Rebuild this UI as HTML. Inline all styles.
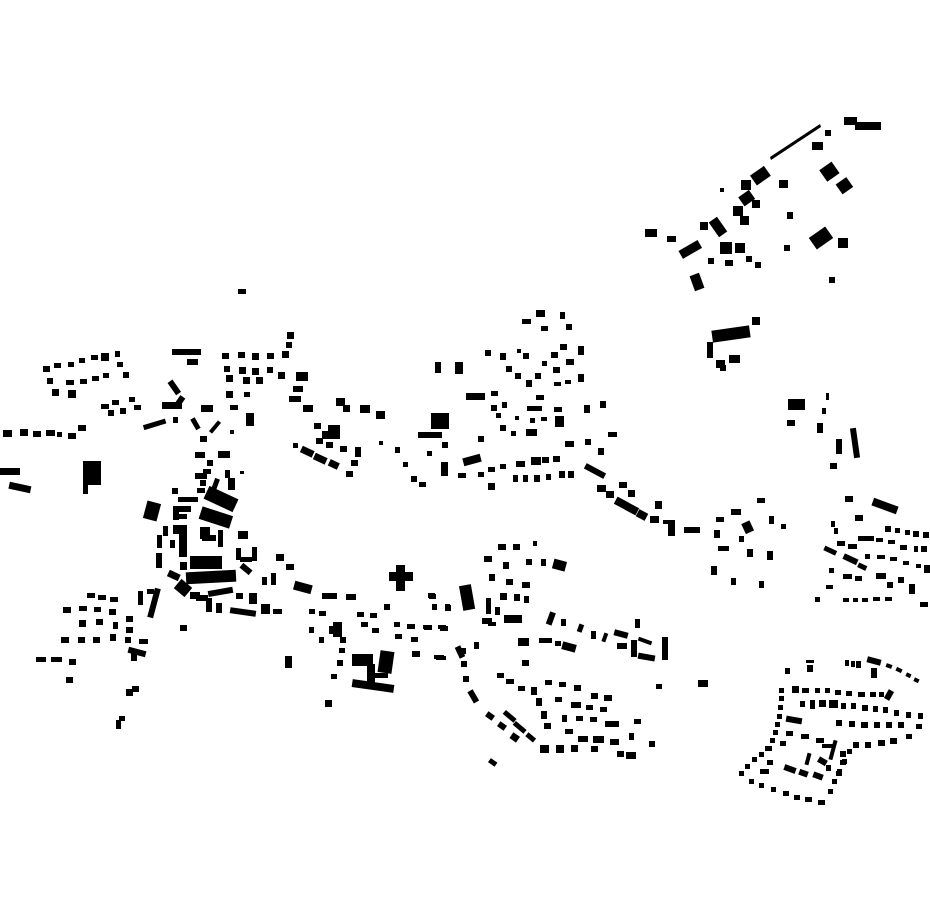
<!DOCTYPE html>
<html><head><meta charset="utf-8"><style>html,body{margin:0;padding:0;background:#fff}svg{display:block}</style></head>
<body>
<svg width="930" height="924" viewBox="0 0 930 924" xmlns="http://www.w3.org/2000/svg">
<defs><rect id="s" width="8" height="6"/><rect id="q" width="7" height="7"/></defs>
<g fill="#000">
<!-- top right -->
<path d="M770 157 L820 124 L821 127 L771 160Z"/>
<rect x="844" y="117" width="13" height="8"/><rect x="855" y="122" width="26" height="8"/>
<rect x="812" y="142" width="11" height="8"/><rect x="825" y="130" width="6" height="6"/>
<rect x="822" y="165" width="15" height="14" transform="rotate(-35 829 172)"/><rect x="838" y="180" width="13" height="12" transform="rotate(-35 844 186)"/>
<rect x="779" y="180" width="9" height="8"/><rect x="752" y="170" width="17" height="12" transform="rotate(-35 760 176)"/>
<rect x="741" y="180" width="10" height="10"/><rect x="740" y="193" width="13" height="11" transform="rotate(-35 746 198)"/>
<rect x="752" y="200" width="8" height="8"/><rect x="733" y="206" width="10" height="10"/><rect x="740" y="216" width="9" height="9"/>
<rect x="713" y="218" width="10" height="18" transform="rotate(-35 718 227)"/><rect x="700" y="222" width="8" height="8"/>
<rect x="679" y="245" width="22" height="9" transform="rotate(-30 690 249)"/><rect x="667" y="236" width="9" height="6"/>
<rect x="645" y="229" width="12" height="8"/><rect x="720" y="242" width="12" height="12"/><rect x="735" y="243" width="10" height="10"/>
<rect x="746" y="256" width="6" height="6"/><rect x="725" y="260" width="8" height="6"/><rect x="755" y="262" width="6" height="6"/>
<rect x="708" y="258" width="6" height="6"/><rect x="692" y="274" width="10" height="16" transform="rotate(-20 697 282)"/>
<rect x="811" y="231" width="20" height="14" transform="rotate(-35 821 238)"/><rect x="838" y="238" width="10" height="10"/>
<rect x="784" y="245" width="6" height="6"/><rect x="787" y="212" width="6" height="7"/><rect x="829" y="277" width="6" height="6"/><rect x="720" y="188" width="4" height="4"/>
<!-- mid right -->
<rect x="712" y="328" width="38" height="12" transform="rotate(-8 731 334)"/><rect x="752" y="317" width="8" height="8"/>
<rect x="707" y="342" width="6" height="16"/><rect x="716" y="360" width="9" height="8"/><rect x="729" y="355" width="11" height="8"/><rect x="720" y="365" width="6" height="6"/>
<rect x="788" y="399" width="17" height="11"/><rect x="787" y="420" width="8" height="6"/><rect x="826" y="393" width="3" height="7"/><rect x="822" y="408" width="4" height="6"/>
<rect x="817" y="423" width="6" height="10"/><rect x="836" y="439" width="6" height="15"/><rect x="852" y="428" width="6" height="30" transform="rotate(-8 855 443)"/><rect x="830" y="463" width="7" height="6"/>
<!-- road east -->
<rect x="584" y="468" width="22" height="6" transform="rotate(28 595 471)"/><rect x="597" y="485" width="9" height="7"/><rect x="606" y="491" width="8" height="7"/>
<rect x="619" y="482" width="8" height="6"/><rect x="628" y="490" width="7" height="7"/><rect x="615" y="499" width="13" height="8" transform="rotate(28 621 503)"/>
<rect x="626" y="505" width="12" height="8" transform="rotate(28 632 509)"/><rect x="637" y="511" width="10" height="8" transform="rotate(28 642 515)"/>
<rect x="655" y="501" width="7" height="8"/><rect x="650" y="516" width="9" height="7"/><rect x="668" y="520" width="7" height="16"/><rect x="663" y="520" width="10" height="4"/><rect x="684" y="527" width="16" height="6"/>
<!-- east cluster -->
<rect x="716" y="517" width="8" height="5"/><rect x="731" y="509" width="10" height="6"/><rect x="757" y="498" width="8" height="5"/>
<rect x="743" y="522" width="9" height="11" transform="rotate(-25 747 527)"/><rect x="769" y="516" width="5" height="8"/><rect x="781" y="524" width="5" height="5"/>
<rect x="714" y="530" width="6" height="8"/><rect x="718" y="546" width="11" height="5"/><rect x="739" y="536" width="5" height="6"/><rect x="747" y="549" width="6" height="8"/>
<rect x="767" y="551" width="6" height="9"/><rect x="711" y="566" width="6" height="9"/><rect x="731" y="578" width="5" height="7"/><rect x="759" y="581" width="5" height="7"/>
<!-- far right -->
<rect x="845" y="496" width="8" height="6"/><rect x="872" y="502" width="26" height="8" transform="rotate(20 885 506)"/><rect x="855" y="515" width="8" height="6"/>
<rect x="831" y="521" width="4" height="6"/><rect x="858" y="536" width="9" height="5"/><rect x="834" y="528" width="4" height="6"/>
<rect x="885" y="526" width="6" height="6"/><rect x="895" y="528" width="5" height="5"/><rect x="905" y="530" width="5" height="5"/><rect x="913" y="531" width="6" height="6"/><rect x="923" y="532" width="6" height="6"/>
<rect x="837" y="541" width="8" height="5"/><rect x="848" y="544" width="9" height="5"/><rect x="866" y="536" width="8" height="5"/><rect x="876" y="538" width="7" height="4"/><rect x="888" y="540" width="7" height="4"/>
<rect x="900" y="545" width="7" height="5"/><rect x="914" y="546" width="4" height="6"/><rect x="921" y="546" width="6" height="6"/>
<rect x="824" y="548" width="13" height="5" transform="rotate(25 830 550)"/><rect x="843" y="556" width="15" height="6" transform="rotate(25 850 559)"/>
<rect x="858" y="564" width="9" height="5" transform="rotate(25 862 566)"/><rect x="865" y="554" width="5" height="5"/><rect x="877" y="555" width="8" height="4"/><rect x="890" y="557" width="7" height="4"/><rect x="903" y="561" width="6" height="4"/><rect x="916" y="564" width="5" height="4"/><rect x="924" y="565" width="6" height="8"/>
<rect x="829" y="568" width="5" height="5"/><rect x="843" y="574" width="9" height="5"/><rect x="855" y="576" width="7" height="5"/><rect x="876" y="573" width="10" height="6"/><rect x="887" y="582" width="6" height="6"/><rect x="898" y="577" width="6" height="6"/><rect x="909" y="584" width="6" height="10"/>
<rect x="826" y="585" width="7" height="4"/><rect x="815" y="597" width="5" height="5"/><rect x="843" y="598" width="6" height="4"/><rect x="853" y="598" width="5" height="4"/><rect x="862" y="598" width="6" height="4"/><rect x="873" y="597" width="7" height="4"/><rect x="885" y="597" width="7" height="4"/><rect x="920" y="602" width="8" height="5"/>
<!-- north-central cluster -->
<rect x="536" y="310" width="9" height="7"/><rect x="522" y="319" width="9" height="5"/><rect x="541" y="326" width="7" height="5"/><rect x="560" y="312" width="5" height="7"/><rect x="566" y="324" width="6" height="6"/>
<rect x="485" y="350" width="6" height="6"/><rect x="500" y="353" width="6" height="7"/><rect x="517" y="349" width="4" height="4"/><rect x="523" y="353" width="6" height="6"/>
<rect x="506" y="366" width="6" height="6"/><rect x="515" y="373" width="6" height="6"/><rect x="526" y="380" width="6" height="7"/><rect x="535" y="373" width="6" height="6"/>
<rect x="542" y="361" width="5" height="5"/><rect x="551" y="352" width="7" height="6"/><rect x="560" y="344" width="7" height="6"/><rect x="578" y="346" width="6" height="9"/>
<rect x="566" y="359" width="8" height="6"/><rect x="553" y="367" width="7" height="6"/><rect x="554" y="382" width="7" height="4"/><rect x="565" y="380" width="6" height="4"/><rect x="578" y="374" width="6" height="8"/>
<rect x="435" y="362" width="6" height="11"/><rect x="455" y="362" width="8" height="12"/>
<rect x="466" y="393" width="19" height="7"/><rect x="491" y="391" width="7" height="5"/><rect x="491" y="405" width="6" height="6"/><rect x="502" y="402" width="5" height="6"/>
<rect x="496" y="413" width="5" height="5"/><rect x="500" y="425" width="6" height="6"/><rect x="511" y="431" width="5" height="5"/><rect x="527" y="406" width="15" height="5"/>
<rect x="536" y="395" width="8" height="5"/><rect x="554" y="407" width="8" height="5"/><rect x="515" y="416" width="4" height="4"/><rect x="530" y="418" width="5" height="5"/>
<rect x="541" y="417" width="6" height="4"/><rect x="555" y="416" width="9" height="11"/><rect x="526" y="429" width="11" height="7"/><rect x="584" y="405" width="6" height="8"/><rect x="600" y="401" width="6" height="7"/>
<rect x="431" y="413" width="18" height="16"/><rect x="418" y="432" width="24" height="6"/><rect x="427" y="451" width="5" height="5"/><rect x="442" y="442" width="6" height="6"/>
<rect x="441" y="462" width="7" height="14"/><rect x="478" y="436" width="6" height="6"/><rect x="463" y="456" width="18" height="8" transform="rotate(-15 472 460)"/>
<rect x="458" y="473" width="8" height="5"/><rect x="478" y="472" width="6" height="5"/><rect x="488" y="467" width="7" height="5"/><rect x="500" y="464" width="6" height="5"/>
<rect x="516" y="461" width="9" height="6"/><rect x="531" y="457" width="10" height="8"/><rect x="542" y="457" width="7" height="6"/><rect x="553" y="456" width="7" height="6"/>
<rect x="488" y="483" width="7" height="7"/><rect x="513" y="475" width="5" height="7"/><rect x="523" y="475" width="5" height="7"/><rect x="534" y="475" width="6" height="7"/><rect x="546" y="474" width="5" height="6"/><rect x="559" y="471" width="6" height="7"/><rect x="568" y="471" width="6" height="7"/>
<rect x="565" y="441" width="9" height="6"/><rect x="585" y="439" width="6" height="6"/><rect x="598" y="448" width="6" height="7"/><rect x="608" y="432" width="9" height="5"/>
<!-- west -->
<rect x="238" y="289" width="8" height="5"/>
<rect x="43" y="366" width="7" height="6"/><rect x="54" y="363" width="7" height="5"/><rect x="68" y="362" width="6" height="5"/><rect x="79" y="358" width="6" height="5"/><rect x="91" y="355" width="7" height="5"/><rect x="101" y="353" width="8" height="8"/><rect x="115" y="351" width="5" height="6"/>
<rect x="47" y="378" width="6" height="6"/><rect x="52" y="389" width="7" height="7"/><rect x="66" y="380" width="8" height="5"/><rect x="80" y="379" width="7" height="5"/><rect x="92" y="376" width="7" height="5"/><rect x="103" y="373" width="6" height="5"/><rect x="68" y="390" width="8" height="8"/><rect x="123" y="372" width="6" height="6"/><rect x="117" y="362" width="6" height="5"/>
<rect x="172" y="349" width="29" height="6"/><rect x="187" y="359" width="11" height="6"/>
<rect x="171" y="380" width="6" height="15" transform="rotate(-35 174 387)"/><rect x="162" y="402" width="20" height="7"/><rect x="177" y="396" width="6" height="10" transform="rotate(35 180 401)"/>
<rect x="101" y="404" width="8" height="5"/><rect x="112" y="400" width="7" height="5"/><rect x="129" y="397" width="6" height="5"/><rect x="134" y="405" width="7" height="5"/><rect x="108" y="410" width="6" height="6"/><rect x="120" y="408" width="6" height="6"/>
<rect x="3" y="430" width="9" height="7"/><rect x="20" y="429" width="8" height="7"/><rect x="33" y="431" width="8" height="6"/><rect x="46" y="430" width="9" height="6"/><rect x="57" y="432" width="5" height="5"/><rect x="68" y="433" width="8" height="6"/><rect x="78" y="425" width="8" height="6"/>
<rect x="143" y="422" width="23" height="5" transform="rotate(-17 154 424)"/><rect x="173" y="417" width="5" height="6"/>
<rect x="83" y="461" width="18" height="24"/><rect x="83" y="480" width="5" height="14"/>
<rect x="0" y="468" width="20" height="7"/><rect x="9" y="484" width="22" height="7" transform="rotate(12 20 487)"/>
<rect x="222" y="353" width="7" height="6"/><rect x="238" y="352" width="7" height="6"/><rect x="252" y="353" width="7" height="7"/><rect x="267" y="353" width="7" height="6"/><rect x="282" y="351" width="7" height="7"/>
<rect x="224" y="366" width="6" height="6"/><rect x="239" y="367" width="7" height="7"/><rect x="252" y="368" width="7" height="7"/><rect x="267" y="367" width="6" height="6"/><rect x="278" y="372" width="7" height="7"/>
<rect x="226" y="375" width="7" height="7"/><rect x="243" y="377" width="7" height="7"/><rect x="256" y="377" width="7" height="7"/><rect x="226" y="391" width="7" height="7"/><rect x="244" y="392" width="6" height="5"/>
<rect x="287" y="332" width="7" height="7"/><rect x="286" y="342" width="6" height="6"/>
<rect x="296" y="372" width="12" height="9"/><rect x="293" y="386" width="10" height="6"/><rect x="289" y="396" width="12" height="6"/><rect x="306" y="405" width="7" height="7"/><rect x="201" y="405" width="12" height="7"/><rect x="230" y="405" width="8" height="5"/>
<rect x="246" y="413" width="8" height="13"/><rect x="193" y="418" width="5" height="12" transform="rotate(-30 195 424)"/><rect x="213" y="420" width="4" height="14" transform="rotate(40 215 427)"/><rect x="200" y="436" width="7" height="6"/><rect x="230" y="430" width="4" height="4"/>
<rect x="336" y="398" width="9" height="8"/><rect x="343" y="405" width="7" height="7"/><rect x="360" y="405" width="10" height="8"/><rect x="376" y="411" width="9" height="8"/>
<rect x="303" y="405" width="7" height="7"/><rect x="314" y="423" width="7" height="6"/><rect x="328" y="425" width="12" height="8"/><rect x="322" y="431" width="18" height="8"/><rect x="316" y="438" width="7" height="6"/><rect x="326" y="442" width="7" height="6"/><rect x="340" y="446" width="7" height="6"/><rect x="355" y="447" width="6" height="10"/>
<rect x="293" y="443" width="5" height="5"/><rect x="301" y="448" width="13" height="7" transform="rotate(25 307 451)"/><rect x="314" y="455" width="13" height="7" transform="rotate(25 320 458)"/><rect x="329" y="461" width="10" height="7" transform="rotate(25 334 464)"/><rect x="351" y="460" width="7" height="6"/><rect x="346" y="471" width="7" height="6"/>
<rect x="379" y="441" width="4" height="4"/><rect x="395" y="447" width="5" height="6"/><rect x="403" y="462" width="5" height="5"/><rect x="411" y="476" width="6" height="6"/><rect x="419" y="482" width="7" height="5"/>
<!-- old town -->
<rect x="195" y="452" width="10" height="6"/><rect x="207" y="460" width="6" height="6"/><rect x="203" y="469" width="8" height="5"/><rect x="218" y="451" width="12" height="7"/><rect x="225" y="470" width="5" height="8"/><rect x="240" y="471" width="4" height="3"/>
<rect x="195" y="473" width="12" height="6"/><rect x="200" y="480" width="6" height="6"/><rect x="197" y="488" width="8" height="5"/><rect x="228" y="478" width="7" height="12"/><rect x="212" y="478" width="5" height="18" transform="rotate(20 214 487)"/>
<rect x="172" y="488" width="6" height="6"/><rect x="178" y="497" width="20" height="5"/>
<rect x="205" y="492" width="32" height="14" transform="rotate(25 221 499)"/><rect x="200" y="511" width="32" height="13" transform="rotate(18 216 517)"/>
<rect x="145" y="502" width="14" height="18" transform="rotate(15 152 511)"/><rect x="173" y="506" width="18" height="6"/><rect x="173" y="506" width="6" height="14"/><rect x="178" y="514" width="9" height="5"/>
<rect x="179" y="525" width="8" height="32"/><rect x="173" y="525" width="6" height="9"/><rect x="163" y="526" width="5" height="10"/><rect x="157" y="535" width="5" height="13"/><rect x="156" y="553" width="6" height="15"/><rect x="170" y="540" width="5" height="8"/>
<rect x="200" y="527" width="10" height="12"/><rect x="202" y="535" width="14" height="6"/><rect x="218" y="530" width="5" height="10"/><rect x="218" y="540" width="5" height="7"/><rect x="238" y="531" width="10" height="8"/>
<rect x="190" y="556" width="32" height="13"/><rect x="186" y="571" width="50" height="12" transform="rotate(-3 211 577)"/><rect x="168" y="572" width="12" height="7" transform="rotate(25 174 575)"/><rect x="180" y="562" width="7" height="8"/>
<rect x="236" y="548" width="5" height="12"/><rect x="240" y="557" width="12" height="5"/><rect x="252" y="547" width="5" height="14"/><rect x="240" y="566" width="12" height="6" transform="rotate(40 246 569)"/>
<rect x="176" y="582" width="14" height="12" transform="rotate(40 183 588)"/><rect x="190" y="592" width="10" height="7"/><rect x="196" y="595" width="12" height="6"/><rect x="206" y="598" width="6" height="14"/><rect x="216" y="603" width="6" height="10"/>
<rect x="230" y="609" width="26" height="6" transform="rotate(8 243 612)"/><rect x="208" y="589" width="25" height="6" transform="rotate(-10 220 592)"/><rect x="236" y="593" width="7" height="6"/><rect x="249" y="593" width="8" height="11"/><rect x="261" y="604" width="9" height="10"/><rect x="273" y="609" width="9" height="5"/>
<rect x="151" y="588" width="6" height="30" transform="rotate(15 154 603)"/><rect x="138" y="591" width="5" height="14"/><rect x="147" y="589" width="7" height="5"/>
<rect x="276" y="554" width="8" height="7"/><rect x="286" y="564" width="8" height="6"/><rect x="271" y="573" width="5" height="12"/><rect x="262" y="577" width="5" height="8"/>
<rect x="294" y="583" width="18" height="9" transform="rotate(15 303 587)"/><rect x="322" y="593" width="15" height="6"/><rect x="346" y="594" width="10" height="6"/>
<path d="M396 565h9v7h8v9h-8v10h-9v-10h-7v-9h7z"/>
<rect x="429" y="594" width="7" height="5"/><rect x="432" y="604" width="5" height="6"/><rect x="445" y="605" width="6" height="6"/><rect x="461" y="585" width="12" height="25" transform="rotate(-10 467 597)"/>
<rect x="384" y="604" width="6" height="6"/><rect x="357" y="612" width="7" height="5"/><rect x="370" y="613" width="7" height="5"/><rect x="361" y="622" width="7" height="5"/><rect x="372" y="628" width="7" height="5"/><rect x="394" y="622" width="6" height="5"/>
<rect x="407" y="624" width="8" height="5"/><rect x="424" y="625" width="8" height="5"/><rect x="440" y="626" width="8" height="5"/><rect x="395" y="634" width="7" height="5"/><rect x="411" y="637" width="7" height="5"/><rect x="412" y="651" width="8" height="6"/><rect x="436" y="656" width="10" height="4"/>
<rect x="333" y="622" width="9" height="15"/><rect x="329" y="626" width="5" height="8"/><rect x="309" y="609" width="6" height="5"/><rect x="319" y="611" width="7" height="5"/><rect x="309" y="627" width="5" height="6"/><rect x="319" y="637" width="5" height="6"/><rect x="340" y="637" width="6" height="6"/><rect x="339" y="648" width="6" height="5"/><rect x="337" y="660" width="6" height="6"/><rect x="331" y="674" width="6" height="5"/><rect x="325" y="700" width="7" height="7"/>
<rect x="352" y="654" width="21" height="12"/><rect x="379" y="651" width="14" height="22" transform="rotate(8 386 662)"/><rect x="367" y="664" width="8" height="25"/><rect x="352" y="682" width="42" height="8" transform="rotate(8 373 686)"/><rect x="374" y="673" width="14" height="5"/>
<rect x="285" y="656" width="7" height="12"/>
<rect x="87" y="593" width="8" height="5"/><rect x="98" y="595" width="8" height="5"/><rect x="110" y="597" width="8" height="5"/><rect x="63" y="607" width="8" height="6"/><rect x="79" y="606" width="8" height="5"/><rect x="94" y="607" width="7" height="5"/><rect x="109" y="609" width="7" height="6"/><rect x="126" y="616" width="7" height="6"/>
<rect x="79" y="620" width="7" height="7"/><rect x="96" y="619" width="7" height="6"/><rect x="113" y="622" width="5" height="7"/><rect x="126" y="627" width="7" height="6"/><rect x="61" y="637" width="8" height="6"/><rect x="78" y="637" width="7" height="6"/><rect x="93" y="637" width="7" height="6"/><rect x="110" y="634" width="6" height="7"/><rect x="125" y="637" width="6" height="6"/><rect x="139" y="639" width="9" height="5"/>
<rect x="36" y="657" width="10" height="5"/><rect x="51" y="657" width="11" height="5"/><rect x="69" y="659" width="7" height="6"/><rect x="66" y="677" width="7" height="6"/>
<rect x="128" y="649" width="18" height="6" transform="rotate(15 137 652)"/><rect x="131" y="653" width="6" height="8"/><rect x="126" y="689" width="7" height="7"/><rect x="132" y="686" width="7" height="6"/><rect x="116" y="720" width="5" height="9"/><rect x="119" y="716" width="6" height="5"/><rect x="180" y="625" width="7" height="6"/>
<!-- south central -->
<rect x="498" y="544" width="8" height="6"/><rect x="513" y="544" width="7" height="6"/><rect x="533" y="541" width="4" height="5"/><rect x="484" y="556" width="8" height="6"/><rect x="503" y="562" width="6" height="7"/>
<rect x="526" y="559" width="6" height="6"/><rect x="541" y="559" width="5" height="7"/><rect x="553" y="560" width="13" height="10" transform="rotate(15 559 565)"/><rect x="489" y="574" width="6" height="7"/><rect x="506" y="579" width="7" height="6"/><rect x="522" y="582" width="8" height="6"/>
<rect x="500" y="593" width="7" height="7"/><rect x="514" y="594" width="6" height="7"/><rect x="524" y="596" width="5" height="7"/><rect x="486" y="598" width="5" height="16"/><rect x="495" y="607" width="5" height="8"/>
<rect x="428" y="593" width="7" height="5"/><rect x="445" y="604" width="5" height="6"/><rect x="423" y="625" width="6" height="4"/><rect x="438" y="625" width="8" height="4"/><rect x="482" y="618" width="10" height="6"/><rect x="488" y="622" width="8" height="4"/><rect x="504" y="615" width="18" height="8"/>
<rect x="457" y="646" width="6" height="12" transform="rotate(-25 460 652)"/><rect x="474" y="642" width="5" height="7"/><rect x="434" y="655" width="10" height="4"/>
<rect x="548" y="612" width="6" height="13" transform="rotate(20 551 618)"/><rect x="561" y="619" width="5" height="7"/><rect x="578" y="624" width="5" height="8" transform="rotate(20 580 628)"/><rect x="591" y="631" width="5" height="8"/><rect x="603" y="633" width="4" height="9" transform="rotate(20 605 637)"/>
<rect x="614" y="631" width="14" height="6" transform="rotate(15 621 634)"/><rect x="635" y="619" width="5" height="9"/><rect x="617" y="643" width="10" height="6"/><rect x="631" y="640" width="6" height="17"/><rect x="638" y="639" width="14" height="4" transform="rotate(20 645 641)"/><rect x="638" y="654" width="17" height="6" transform="rotate(10 646 657)"/><rect x="662" y="637" width="6" height="23"/>
<rect x="518" y="638" width="11" height="8"/><rect x="539" y="638" width="13" height="5"/><rect x="555" y="641" width="6" height="5"/><rect x="562" y="643" width="14" height="8" transform="rotate(15 569 647)"/>
<rect x="522" y="660" width="7" height="6"/><rect x="497" y="673" width="7" height="5"/><rect x="506" y="679" width="8" height="5"/><rect x="518" y="686" width="7" height="5"/><rect x="531" y="687" width="6" height="8"/><rect x="536" y="698" width="6" height="8"/><rect x="541" y="711" width="6" height="8"/><rect x="544" y="723" width="7" height="6"/>
<rect x="470" y="690" width="6" height="13" transform="rotate(-30 473 696)"/><rect x="463" y="676" width="6" height="6"/><rect x="461" y="661" width="6" height="6"/><rect x="460" y="648" width="6" height="6"/>
<rect x="545" y="680" width="7" height="5"/><rect x="559" y="682" width="7" height="5"/><rect x="574" y="685" width="7" height="6"/><rect x="591" y="693" width="7" height="6"/><rect x="604" y="695" width="8" height="6"/><rect x="555" y="697" width="7" height="5"/><rect x="571" y="702" width="10" height="6"/>
<rect x="586" y="705" width="7" height="5"/><rect x="600" y="707" width="7" height="5"/><rect x="562" y="715" width="5" height="7"/><rect x="576" y="716" width="7" height="5"/><rect x="590" y="717" width="7" height="5"/><rect x="605" y="721" width="14" height="6"/><rect x="634" y="719" width="7" height="5"/>
<rect x="565" y="729" width="8" height="5"/><rect x="578" y="736" width="10" height="6"/><rect x="593" y="736" width="11" height="7"/><rect x="610" y="739" width="9" height="6"/><rect x="629" y="733" width="5" height="7"/><rect x="649" y="741" width="6" height="6"/>
<rect x="540" y="745" width="9" height="8"/><rect x="556" y="745" width="8" height="8"/><rect x="571" y="745" width="7" height="7"/><rect x="591" y="746" width="7" height="6"/><rect x="617" y="751" width="7" height="6"/><rect x="626" y="752" width="10" height="7"/>
<rect x="486" y="713" width="8" height="6" transform="rotate(35 490 716)"/><rect x="498" y="723" width="8" height="6" transform="rotate(35 502 726)"/><rect x="511" y="734" width="8" height="7" transform="rotate(35 515 737)"/>
<rect x="503" y="714" width="14" height="5" transform="rotate(40 510 716)"/><rect x="513" y="725" width="14" height="5" transform="rotate(40 520 727)"/><rect x="526" y="735" width="10" height="5" transform="rotate(40 531 737)"/>
<rect x="489" y="760" width="8" height="5" transform="rotate(35 493 762)"/><rect x="656" y="684" width="6" height="5"/><rect x="698" y="680" width="10" height="7"/>
<!-- bottom right -->
<rect x="806" y="660" width="8" height="3"/><rect x="807" y="665" width="6" height="7"/><rect x="845" y="660" width="4" height="6"/><rect x="851" y="661" width="4" height="6"/><rect x="856" y="661" width="5" height="7"/>
<rect x="867" y="658" width="14" height="6" transform="rotate(15 874 661)"/><rect x="871" y="668" width="6" height="10"/><rect x="886" y="664" width="6" height="4" transform="rotate(20 889 666)"/><rect x="896" y="668" width="6" height="4" transform="rotate(25 899 670)"/><rect x="906" y="673" width="5" height="4" transform="rotate(25 908 675)"/><rect x="914" y="678" width="5" height="4" transform="rotate(25 916 680)"/><rect x="785" y="668" width="5" height="6"/>
<rect x="792" y="686" width="7" height="7"/><rect x="802" y="688" width="7" height="5"/><rect x="815" y="688" width="5" height="5"/><rect x="825" y="688" width="5" height="5"/><rect x="835" y="690" width="6" height="5"/><rect x="846" y="691" width="6" height="5"/><rect x="858" y="692" width="7" height="5"/><rect x="870" y="692" width="6" height="5"/><rect x="879" y="692" width="5" height="5"/><rect x="886" y="690" width="6" height="10" transform="rotate(30 889 695)"/>
<rect x="800" y="701" width="5" height="6"/><rect x="810" y="700" width="5" height="9"/><rect x="819" y="700" width="7" height="7"/><rect x="829" y="700" width="9" height="8"/><rect x="841" y="703" width="5" height="6"/><rect x="851" y="703" width="5" height="6"/><rect x="862" y="705" width="6" height="6"/><rect x="873" y="706" width="5" height="6"/><rect x="883" y="707" width="5" height="6"/><rect x="894" y="710" width="5" height="6"/><rect x="906" y="712" width="5" height="6"/><rect x="918" y="713" width="5" height="6"/>
<rect x="786" y="717" width="16" height="6" transform="rotate(10 794 720)"/><rect x="836" y="720" width="6" height="6"/><rect x="849" y="721" width="6" height="6"/><rect x="861" y="722" width="7" height="6"/><rect x="874" y="722" width="6" height="6"/><rect x="886" y="722" width="6" height="6"/><rect x="898" y="722" width="6" height="6"/><rect x="916" y="724" width="6" height="5"/>
<rect x="906" y="734" width="6" height="5"/><rect x="890" y="738" width="7" height="6"/><rect x="878" y="740" width="7" height="6"/><rect x="865" y="742" width="6" height="6"/><rect x="853" y="742" width="6" height="6"/><rect x="840" y="751" width="6" height="6"/><rect x="831" y="740" width="4" height="20" transform="rotate(15 833 750)"/><rect x="822" y="744" width="13" height="4"/>
<rect x="816" y="738" width="8" height="5"/><rect x="801" y="734" width="8" height="5"/><rect x="786" y="731" width="7" height="5"/><rect x="780" y="741" width="6" height="5"/><rect x="765" y="746" width="7" height="5"/><rect x="767" y="760" width="6" height="5"/><rect x="760" y="769" width="9" height="5"/>
<rect x="784" y="766" width="12" height="6" transform="rotate(20 790 769)"/><rect x="799" y="770" width="9" height="6" transform="rotate(20 803 773)"/><rect x="813" y="773" width="10" height="6" transform="rotate(20 818 776)"/><rect x="806" y="753" width="4" height="12" transform="rotate(15 808 759)"/><rect x="818" y="758" width="9" height="6" transform="rotate(30 822 761)"/><rect x="826" y="765" width="5" height="6"/><rect x="840" y="760" width="6" height="5"/><rect x="836" y="771" width="6" height="5"/>
<rect x="779" y="688" width="5" height="5"/><rect x="779" y="696" width="5" height="5"/><rect x="778" y="705" width="5" height="5"/><rect x="777" y="714" width="5" height="5"/><rect x="775" y="722" width="5" height="5"/><rect x="773" y="730" width="5" height="5"/><rect x="770" y="738" width="5" height="5"/><rect x="766" y="746" width="5" height="5"/><rect x="759" y="752" width="5" height="5"/><rect x="752" y="757" width="5" height="5"/><rect x="745" y="764" width="5" height="5"/><rect x="739" y="771" width="5" height="5"/>
<rect x="749" y="779" width="5" height="5"/><rect x="759" y="783" width="5" height="5"/><rect x="771" y="787" width="5" height="5"/><rect x="783" y="791" width="6" height="5"/><rect x="794" y="795" width="6" height="5"/><rect x="805" y="797" width="7" height="5"/><rect x="818" y="800" width="7" height="5"/><rect x="828" y="789" width="5" height="5"/><rect x="832" y="779" width="5" height="5"/><rect x="837" y="769" width="5" height="5"/><rect x="842" y="759" width="5" height="5"/><rect x="847" y="749" width="5" height="5"/>
</g>
</svg>
</body></html>
